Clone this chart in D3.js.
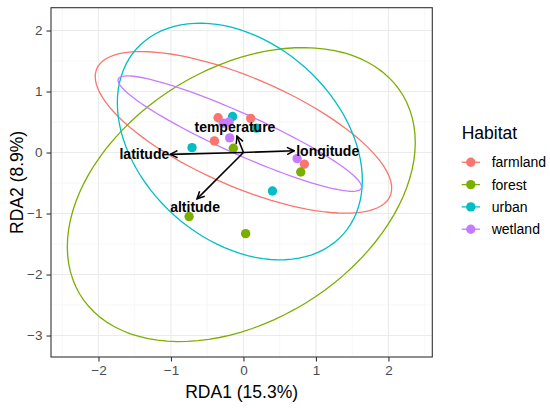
<!DOCTYPE html>
<html lang="en">
  <head>
    <meta charset="utf-8">
    <script src="https://cdn.jsdelivr.net/npm/d3@7"></script>
    <style>
      body { margin: 0; background: #fff; }
      text { font-family: "Liberation Sans", Arial, sans-serif; }
    </style>
  </head>
  <body>
    <svg id="chart"></svg>
  </body>
  <script>

    var width = 550;
    var height = 408;

    // habitats and their colours
    var habitats = ["farmland", "forest", "urban", "wetland"];
    var colors = ["#F8766D", "#7CAE00", "#00BFC4", "#C77CFF"];

    // site scores (RDA1, RDA2) per habitat
    var farmlandX = [-0.35, 0.10, -0.40, 0.84];
    var farmlandY = [0.57, 0.56, 0.19, -0.19];
    var forestX = [-0.14, 0.79, -0.75, 0.03];
    var forestY = [0.07, -0.32, -1.05, -1.33];
    var urbanX = [-0.15, 0.18, -0.71, 0.40];
    var urbanY = [0.59, 0.40, 0.08, -0.63];
    var wetlandX = [-0.28, -0.20, -0.19, 0.74];
    var wetlandY = [0.48, 0.50, 0.24, -0.10];

    // 95% ellipses: centre, half width, half height, x-position of top point (fraction of half width)
    var ellCx = [0.00, -0.03, -0.05, -0.05];
    var ellCy = [0.33, -0.69, 0.18, 0.31];
    var ellAx = [2.045, 2.40, 1.69, 1.68];
    var ellAy = [1.325, 2.41, 1.94, 0.946];
    var ellTop = [-0.69, 0.355, -0.327, -0.924];

    // environmental vectors
    var envNames = ["latitude", "longitude", "temperature", "altitude"];
    var envX = [-1.01, 0.70, -0.09, -0.64];
    var envY = [-0.03, 0.03, 0.27, -0.76];

    var xTicks = [-2, -1, 0, 1, 2];
    var yTicks = [-3, -2, -1, 0, 1, 2];
    var xMinor = [-2.5, -1.5, -0.5, 0.5, 1.5, 2.5];
    var yMinor = [-2.5, -1.5, -0.5, 0.5, 1.5];

    var svg = d3.select("#chart").attr("width", width).attr("height", height);

    var x = d3.scaleLinear().domain([-2.655, 2.605]).range([51, 432.3]);
    var y = d3.scaleLinear().domain([-3.352, 2.374]).range([357, 7.7]);

    var px0 = x.range()[0], px1 = x.range()[1];
    var py0 = y.range()[1], py1 = y.range()[0];

    svg.append("rect").attr("x", 0).attr("y", 0).attr("width", width).attr("height", height).attr("fill", "#fff");

    // grid
    var grid = svg.append("g");
    grid.selectAll("line.xm").data(xMinor).enter().append("line")
      .attr("x1", function(d) { return x(d); }).attr("x2", function(d) { return x(d); })
      .attr("y1", py0).attr("y2", py1)
      .attr("stroke", "#F2F2F2").attr("stroke-width", 0.6);
    grid.selectAll("line.ym").data(yMinor).enter().append("line")
      .attr("y1", function(d) { return y(d); }).attr("y2", function(d) { return y(d); })
      .attr("x1", px0).attr("x2", px1)
      .attr("stroke", "#F2F2F2").attr("stroke-width", 0.6);
    grid.selectAll("line.xM").data(xTicks).enter().append("line")
      .attr("x1", function(d) { return x(d); }).attr("x2", function(d) { return x(d); })
      .attr("y1", py0).attr("y2", py1)
      .attr("stroke", "#EBEBEB").attr("stroke-width", 1.1);
    grid.selectAll("line.yM").data(yTicks).enter().append("line")
      .attr("y1", function(d) { return y(d); }).attr("y2", function(d) { return y(d); })
      .attr("x1", px0).attr("x2", px1)
      .attr("stroke", "#EBEBEB").attr("stroke-width", 1.1);

    // ellipses
    var ellLine = d3.line().x(function(d) { return x(d[0]); }).y(function(d) { return y(d[1]); });
    habitats.forEach(function(h, i) {
      var phi = Math.acos(ellTop[i]);
      var pts = d3.range(0, 101).map(function(k) {
        var t = k / 100 * 2 * Math.PI;
        return [ellCx[i] + ellAx[i] * Math.cos(t), ellCy[i] + ellAy[i] * Math.cos(t - phi)];
      });
      svg.append("path").datum(pts)
        .attr("d", ellLine)
        .attr("fill", "none")
        .attr("stroke", colors[i])
        .attr("stroke-width", 1.3);
    });

    // points
    var siteX = [farmlandX, forestX, urbanX, wetlandX];
    var siteY = [farmlandY, forestY, urbanY, wetlandY];
    habitats.forEach(function(h, i) {
      svg.append("g").selectAll("circle")
        .data(siteX[i]).enter().append("circle")
        .attr("cx", function(d) { return x(d); })
        .attr("cy", function(d, j) { return y(siteY[i][j]); })
        .attr("r", 4.7)
        .attr("fill", colors[i]);
    });

    // arrows
    svg.append("defs").append("marker")
      .attr("id", "arr")
      .attr("viewBox", "0 0 10 10")
      .attr("refX", 9).attr("refY", 5)
      .attr("markerWidth", 9).attr("markerHeight", 9)
      .attr("markerUnits", "userSpaceOnUse")
      .attr("orient", "auto")
      .append("path")
      .attr("d", "M1,1 L9,5 L1,9")
      .attr("fill", "none")
      .attr("stroke", "#000")
      .attr("stroke-width", 1.7);

    svg.append("g").selectAll("line")
      .data(envNames).enter().append("line")
      .attr("x1", x(0)).attr("y1", y(0))
      .attr("x2", function(d, i) { return x(envX[i]); })
      .attr("y2", function(d, i) { return y(envY[i]); })
      .attr("stroke", "#000")
      .attr("stroke-width", 1.6)
      .attr("marker-end", "url(#arr)");

    svg.append("g").selectAll("text")
      .data(envNames).enter().append("text")
      .text(function(d) { return d; })
      .attr("x", function(d, i) {
        return x(envX[i]) + (Math.abs(envX[i]) > Math.abs(envY[i]) ? (envX[i] < 0 ? -1 : 2) : -2);
      })
      .attr("y", function(d, i) {
        if (Math.abs(envX[i]) > Math.abs(envY[i])) return y(envY[i]) + 5;
        return envY[i] > 0 ? y(envY[i]) - 4.5 : y(envY[i]) + 12.7;
      })
      .attr("text-anchor", function(d, i) {
        if (Math.abs(envX[i]) > Math.abs(envY[i])) return envX[i] < 0 ? "end" : "start";
        return "middle";
      })
      .attr("font-weight", "bold")
      .attr("font-size", "14px")
      .attr("fill", "#000");

    // panel border
    svg.append("rect")
      .attr("x", px0).attr("y", py0)
      .attr("width", px1 - px0).attr("height", py1 - py0)
      .attr("fill", "none").attr("stroke", "#333").attr("stroke-width", 1.1);

    // axes
    var xAxis = svg.append("g").attr("transform", "translate(0," + py1 + ")")
      .call(d3.axisBottom(x).tickValues(xTicks).tickSize(4.5).tickPadding(4)
        .tickFormat(function(d) { return d < 0 ? "\u2212" + Math.abs(d) : d; }));
    var yAxis = svg.append("g").attr("transform", "translate(" + px0 + ",0)")
      .call(d3.axisLeft(y).tickValues(yTicks).tickSize(4.5).tickPadding(4)
        .tickFormat(function(d) { return d < 0 ? "\u2212" + Math.abs(d) : d; }));
    [xAxis, yAxis].forEach(function(a) {
      a.select(".domain").remove();
      a.selectAll(".tick line").attr("stroke", "#333").attr("stroke-width", 1.1);
      a.selectAll(".tick text").attr("fill", "#4D4D4D").attr("font-size", "13.5px")
        .attr("font-family", "'Liberation Sans', Arial, sans-serif");
    });

    svg.append("text")
      .attr("x", (px0 + px1) / 2).attr("y", 398)
      .attr("text-anchor", "middle")
      .attr("font-size", "17.5px")
      .text("RDA1 (15.3%)");

    svg.append("text")
      .attr("transform", "translate(22.5," + ((py0 + py1) / 2) + ") rotate(-90)")
      .attr("text-anchor", "middle")
      .attr("font-size", "17.5px")
      .text("RDA2 (8.9%)");

    // legend
    var legend = svg.append("g");
    legend.append("text")
      .attr("x", 461.7).attr("y", 139.3)
      .attr("font-size", "17.5px")
      .text("Habitat");
    var keys = legend.selectAll("g.key")
      .data(habitats).enter().append("g")
      .attr("transform", function(d, i) { return "translate(0," + (162.3 + i * 22.3) + ")"; });
    keys.append("line")
      .attr("x1", 461.7).attr("x2", 480)
      .attr("y1", 0).attr("y2", 0)
      .attr("stroke", function(d, i) { return colors[i]; })
      .attr("stroke-width", 1.3);
    keys.append("circle")
      .attr("cx", 470.8).attr("cy", 0).attr("r", 4.7)
      .attr("fill", function(d, i) { return colors[i]; });
    keys.append("text")
      .attr("x", 491.7).attr("y", 5)
      .attr("font-size", "14px")
      .text(function(d) { return d; });

  </script>
</html>
